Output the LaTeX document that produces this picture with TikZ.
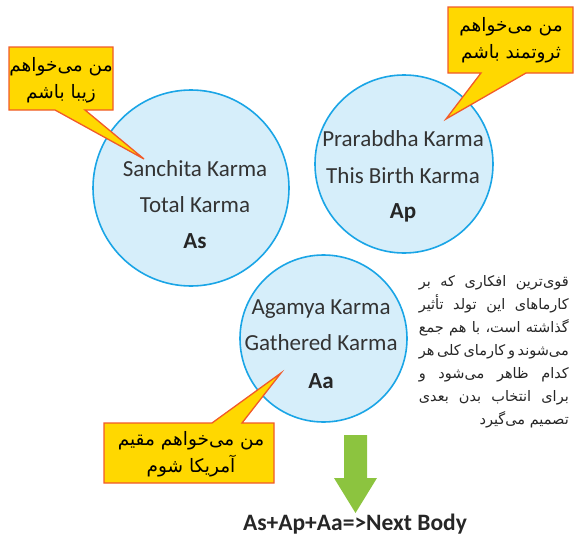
\documentclass[tikz,border=0pt]{standalone}
\usepackage{fontspec}
\setmainfont{Carlito}
\newfontfamily\arabicfont[Script=Arabic]{DejaVu Sans}
\TeXXeTstate=1
\definecolor{cfill}{HTML}{D6EEFA}
\definecolor{cline}{HTML}{1AA5E6}
\definecolor{yfill}{HTML}{FFD800}
\definecolor{yline}{HTML}{F15A29}
\definecolor{garrow}{HTML}{8CC43F}
\definecolor{ktext}{HTML}{333333}
\tikzset{
  karmacircle/.style={circle, draw=cline, line width=1.6pt, fill=cfill, inner sep=0pt},
  ctext/.style={anchor=base, inner sep=0pt, text=ktext, font=\fontsize{23}{27}\selectfont},
  cbold/.style={anchor=base, inner sep=0pt, text=black!85, font=\fontsize{23}{27}\selectfont\bfseries},
  callout/.style={draw=yline, fill=yfill, line width=1.3pt, line join=miter},
  calltext/.style={align=center, inner sep=0pt, font=\arabicfont\fontsize{18.5}{27}\selectfont},
  paraline/.style={anchor=base east, inner sep=0pt, text=black!85, font=\arabicfont\fontsize{14.5}{17}\selectfont},
}
\newcommand{\jline}[1]{\hbox to 150pt{\beginR\spaceskip=0.3em plus 1fill minus 0.15em #1\endR}}
\begin{document}
\begin{tikzpicture}[x=1pt,y=-1pt]
\useasboundingbox (0,0) rectangle (574,538);
% circles
\node[karmacircle, minimum size=196pt] (As) at (191,188) {};
\node[karmacircle, minimum size=178pt] (Ap) at (404,164) {};
\node[karmacircle, minimum size=167pt] (Aa) at (323.5,338.5) {};
% circle texts
\node[ctext] (s1) at (195,176) {Sanchita Karma};
\node[ctext] (s2) at (195,212) {Total Karma};
\node[cbold] (s3) at (195,248) {As};
\node[ctext] (p1) at (403,146) {Prarabdha Karma};
\node[ctext] (p2) at (403,183) {This Birth Karma};
\node[cbold] (p3) at (403,218) {Ap};
\node[ctext] (g1) at (321,314) {Agamya Karma};
\node[ctext] (g2) at (321,350) {Gathered Karma};
\node[cbold] (g3) at (321,388) {Aa};
% callouts
\coordinate (t1) at (144,159);
\coordinate (t2) at (446,119);
\coordinate (t3) at (281,373);
\draw[callout] (9,47) -- (113,47) -- (113,110) -- (85,110) -- (t1) -- (55,110) -- (9,110) -- cycle;
\draw[callout] (448,7) -- (573,7) -- (573,73) -- (526,73) -- (t2) -- (481,73) -- (448,73) -- cycle;
\draw[callout] (104,423) -- (212,423) -- (t3) -- (242,423) -- (274,423) -- (274,483) -- (104,483) -- cycle;
\node[calltext] (c1) at (61,80) {\beginR من می‌خواهم\endR\\\beginR زیبا باشم\endR};
\node[calltext] (c2) at (511,40) {\beginR من می‌خواهم\endR\\\beginR ثروتمند باشم\endR};
\node[calltext] (c3) at (191,454) {\beginR من می‌خواهم مقیم\endR\\\beginR آمریکا شوم\endR};
% paragraph
\node[paraline] (l1) at (569,286) {\jline{قوی‌ترین افکاری که بر}};
\node[paraline] (l2) at (569,309) {\jline{کارماهای این تولد تأثیر}};
\node[paraline] (l3) at (569,332) {\jline{گذاشته است، با هم جمع}};
\node[paraline] (l4) at (569,355) {\jline{می‌شوند و کارمای کلی هر}};
\node[paraline] (l5) at (569,378) {\jline{کدام ظاهر می‌شود و}};
\node[paraline] (l6) at (569,401) {\jline{برای انتخاب بدن بعدی}};
\node[paraline] (l7) at (569,424) {\beginR تصمیم می‌گیرد\endR};
% green arrow
\fill[garrow] (344,435) -- (367,435) -- (367,478) -- (377,478) -- (355.5,513) -- (334,478) -- (344,478) -- cycle;
\node[anchor=base, inner sep=0pt, font=\fontsize{23.5}{27}\selectfont\bfseries, text=black!85] (res) at (355,530) {As+Ap+Aa=>Next Body};
\end{tikzpicture}
\end{document}
